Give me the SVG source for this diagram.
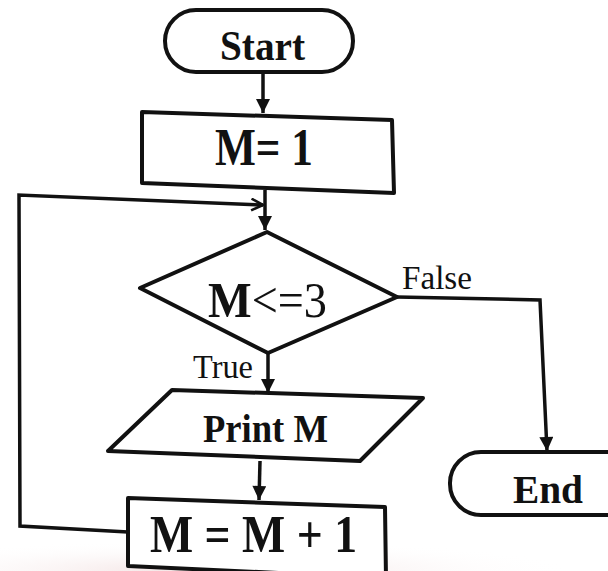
<svg xmlns="http://www.w3.org/2000/svg" width="608" height="571" viewBox="0 0 608 571">
<style>
.s{fill:#fff;stroke:#111;stroke-width:4;stroke-linejoin:round}
.c{fill:none;stroke:#111;stroke-width:3.5}
.b{font-family:"Liberation Serif",serif;font-weight:bold;fill:#111}
.r{font-family:"Liberation Serif",serif;fill:#111}
</style>
<defs>
<marker id="a" viewBox="0 0 12 12" refX="12" refY="6" markerWidth="17" markerHeight="14" orient="auto" markerUnits="userSpaceOnUse">
<path d="M0,0 L12,6 L0,12 Z" fill="#111"/>
</marker>
<marker id="o" viewBox="0 0 12 12" refX="11" refY="6" markerWidth="14" markerHeight="14" orient="auto" markerUnits="userSpaceOnUse">
<path d="M1,1 L11,6 L1,11" fill="none" stroke="#111" stroke-width="2.2"/>
</marker>
<radialGradient id="bg" cx="0.35" cy="1" r="0.6">
<stop offset="0" stop-color="#f2e0e0"/>
<stop offset="1" stop-color="#fff" stop-opacity="0"/>
</radialGradient>
</defs>
<rect width="608" height="571" fill="#fff"/>
<rect x="0" y="520" width="608" height="51" fill="url(#bg)"/>
<g id="connectors">
<line class="c" x1="263" y1="72" x2="263" y2="113" marker-end="url(#a)"/>
<line class="c" x1="265" y1="190" x2="265" y2="230" marker-end="url(#a)"/>
<polyline class="c" points="128,532 20,526 19,195 263,205" marker-end="url(#o)"/>
<line class="c" x1="268" y1="353" x2="268" y2="393" marker-end="url(#a)"/>
<polyline class="c" points="397,297 540,300 547,451" marker-end="url(#a)"/>
<line class="c" x1="260" y1="461" x2="259" y2="500" marker-end="url(#a)"/>
</g>
<g id="start">
<rect class="s" x="165" y="10" width="188" height="62" rx="31"/>
<text class="b" x="220" y="60" font-size="42" textLength="85" lengthAdjust="spacingAndGlyphs">Start</text>
</g>
<g id="init">
<polygon class="s" points="142,112 392,120 394,193 142,183"/>
<text class="b" x="215" y="165" font-size="52" textLength="98" lengthAdjust="spacingAndGlyphs">M= 1</text>
</g>
<g id="decision">
<polygon class="s" points="267,232 397,297 268,353 140,288"/>
<text class="r" x="208" y="317" font-size="50" textLength="119" lengthAdjust="spacingAndGlyphs"><tspan font-weight="bold">M</tspan>&lt;=3</text>
<text class="r" x="402" y="289" font-size="33" textLength="70" lengthAdjust="spacingAndGlyphs">False</text>
<text class="r" x="193" y="378" font-size="33" textLength="60" lengthAdjust="spacingAndGlyphs">True</text>
</g>
<g id="print">
<polygon class="s" points="172,390 423,398 360,461 108,451"/>
<text class="b" x="203" y="442" font-size="40" textLength="125" lengthAdjust="spacingAndGlyphs">Print  M</text>
</g>
<g id="incr">
<polygon class="s" points="128,498 385,507 386,578 128,566"/>
<text class="b" x="150" y="552" font-size="52" textLength="207" lengthAdjust="spacingAndGlyphs">M = M + 1</text>
</g>
<g id="end">
<rect class="s" x="450" y="452" width="200" height="63" rx="31"/>
<text class="b" x="513" y="503" font-size="41" textLength="70" lengthAdjust="spacingAndGlyphs">End</text>
</g>
</svg>
